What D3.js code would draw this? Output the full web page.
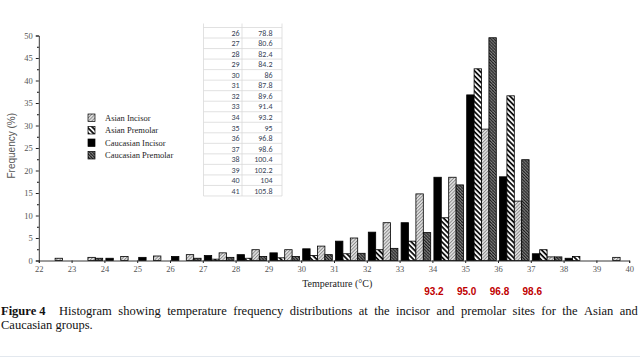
<!DOCTYPE html>
<html><head><meta charset="utf-8">
<script src="https://cdn.jsdelivr.net/npm/d3@7/dist/d3.min.js"></script>
<style>
html,body{margin:0;padding:0;background:#fff;width:640px;height:359px;overflow:hidden;}
.cap{position:absolute;left:1px;width:637px;font-family:"Liberation Serif","Times New Roman",serif;font-size:12.5px;line-height:14px;color:#111;white-space:nowrap;}
#cap1{top:304px;display:flex;justify-content:space-between;}
#cap2{top:318px;}
</style></head>
<body>
<svg id="chart" width="640" height="359" style="position:absolute;left:0;top:0"></svg>
<div id="cap1" class="cap"></div>
<div id="cap2" class="cap"></div>
<script>
// ---- data ----
const bins = [22,23,24,25,26,27,28,29,30,31,32,33,34,35,36,37,38,39];
const seriesNames = ["Caucasian Incisor","Asian Premolar","Asian Incisor","Caucasian Premolar"];
const caucasianIncisor = [0,0,0.5,0.7,0.9,1.1,1.3,1.7,2.6,4.3,6.3,8.4,18.5,36.8,18.6,1.5,0.5,0];
const asianPremolar    = [0,0,0,0,0,0.3,0.5,0.6,1.1,1.5,2.4,4.3,9.5,42.6,36.6,2.4,0.9,0];
const asianIncisor     = [0.5,0.7,0.9,1.0,1.3,1.7,2.4,2.4,3.2,5.0,8.4,14.8,18.5,29.2,13.2,0.8,0,0.7];
const caucasianPremolar= [0,0.5,0,0,0.5,0.7,0.9,0.9,1.3,1.6,2.7,6.2,16.8,49.5,22.4,0.8,0,0];
const xTicks = [22,23,24,25,26,27,28,29,30,31,32,33,34,35,36,37,38,39,40];
const yTicks = [0,5,10,15,20,25,30,35,40,45,50];
const legendOrder = ["Asian Incisor","Asian Premolar","Caucasian Incisor","Caucasian Premolar"];
const tableC = [26,27,28,29,30,31,32,33,34,35,36,37,38,39,40,41];
const tableF = ["78.8","80.6","82.4","84.2","86","87.8","89.6","91.4","93.2","95","96.8","98.6","100.4","102.2","104","105.8"];
const redLabels = [{t:34,label:"93.2"},{t:35,label:"95.0"},{t:36,label:"96.8"},{t:37,label:"98.6"}];
const captionBold = "Figure 4";
const captionLine1 = "Histogram showing temperature frequency distributions at the incisor and premolar sites for the Asian and";
const captionLine2 = "Caucasian groups.";

// caption (two lines; first justified word by word)
const c1 = d3.select("#cap1");
c1.append("b").style("margin-right","7px").text(captionBold);
captionLine1.split(" ").forEach(w=>c1.append("span").text(w));
d3.select("#cap2").text(captionLine2);

const svg = d3.select("#chart");
const defs = svg.append("defs");
function pat(id, size, bg, lines, angle){
  const p = defs.append("pattern").attr("id",id).attr("patternUnits","userSpaceOnUse")
    .attr("width",size).attr("height",size).attr("patternTransform","rotate("+angle+")");
  p.append("rect").attr("width",size).attr("height",size).attr("fill",bg);
  lines.forEach(l=>p.append("line").attr("x1",l.x).attr("y1",0).attr("x2",l.x).attr("y2",size)
    .attr("stroke",l.c).attr("stroke-width",l.w));
  return p;
}
pat("pAI", 2.4, "#e2e2e2", [{x:0.5,c:"#6a6a6a",w:0.7}], 45);
pat("pAP", 3.6, "#ffffff", [{x:1,c:"#000",w:1.7}], -45);
const pc = defs.append("pattern").attr("id","pCP").attr("patternUnits","userSpaceOnUse").attr("width",2.2).attr("height",2.2).attr("patternTransform","rotate(-45)");
pc.append("rect").attr("width",2.2).attr("height",2.2).attr("fill","#8a8a8a");
pc.append("line").attr("x1",0.5).attr("y1",0).attr("x2",0.5).attr("y2",2.2).attr("stroke","#111").attr("stroke-width",0.9);
pc.append("line").attr("x1",0).attr("y1",1.6).attr("x2",2.2).attr("y2",1.6).attr("stroke","#333").attr("stroke-width",0.5);

const fills = {"Caucasian Incisor":"#000","Asian Premolar":"url(#pAP)","Asian Incisor":"url(#pAI)","Caucasian Premolar":"url(#pCP)"};
const seriesData = {"Caucasian Incisor":caucasianIncisor,"Asian Premolar":asianPremolar,"Asian Incisor":asianIncisor,"Caucasian Premolar":caucasianPremolar};

const x = d3.scaleLinear().domain([22,40]).range([38.8,629.2]);
const y = d3.scaleLinear().domain([0,50]).range([260.5,35.5]);
const sub = d3.scaleBand().domain(seriesNames).range([1.5, 1.5+4*7.4]).padding(0);

// table overlay
const tTop = 27.5, rowH = 10.53, tX0 = 203.5, tX1 = 242, tX2 = 282;
const tg = svg.append("g");
d3.range(tableC.length+1).forEach(i=>{
  tg.append("line").attr("x1",tX0).attr("x2",tX2).attr("y1",tTop+i*rowH).attr("y2",tTop+i*rowH).attr("stroke","#d9d9d9").attr("stroke-width",0.8);
});
[tX0,tX1,tX2].forEach(xx=>tg.append("line").attr("x1",xx).attr("x2",xx).attr("y1",tTop-4).attr("y2",tTop+tableC.length*rowH).attr("stroke","#d9d9d9").attr("stroke-width",0.8));
tableC.forEach((c,i)=>{
  tg.append("text").attr("x",tX1-2.5).attr("y",tTop+i*rowH+rowH/2+3).attr("text-anchor","end")
    .attr("font-family","Carlito, 'Liberation Sans', Arial, sans-serif").attr("font-size",8).attr("fill","#3a4658").text(c);
  tg.append("text").attr("x",tX2-9.5).attr("y",tTop+i*rowH+rowH/2+3).attr("text-anchor","end")
    .attr("font-family","Carlito, 'Liberation Sans', Arial, sans-serif").attr("font-size",8).attr("fill","#3a4658").text(tableF[i]);
});

// bars
const g = svg.append("g");
seriesNames.forEach(name=>{
  g.selectAll(null).data(bins.map((b,i)=>({b,v:seriesData[name][i]})).filter(d=>d.v>0)).enter().append("rect")
    .attr("x",d=>x(d.b)+sub(name)).attr("width",sub.bandwidth())
    .attr("y",d=>y(d.v)).attr("height",d=>y(0)-y(d.v))
    .attr("fill",fills[name]).attr("stroke","#000").attr("stroke-width",0.8);
});

// axes
const yAxis = d3.axisLeft(y).tickValues(yTicks).tickSize(3).tickPadding(3).tickFormat(d3.format("d"));
const ya = svg.append("g").attr("transform","translate("+x(22)+",0)").call(yAxis);
const yMinor = d3.axisLeft(y).tickValues(d3.range(2.5,50,5)).tickSize(1.8).tickFormat("");
svg.append("g").attr("transform","translate("+x(22)+",0)").call(yMinor).select(".domain").remove();
const xAxis = d3.axisBottom(x).tickValues(xTicks).tickSize(2.5).tickPadding(3).tickFormat(d3.format("d"));
const xa = svg.append("g").attr("transform","translate(0,"+y(0)+")").call(xAxis);
[ya,xa].forEach(a=>{
  a.selectAll("text").attr("font-family","'Liberation Serif','Times New Roman',serif").attr("font-size",8.5).attr("fill","#555");
  a.select(".domain").attr("stroke","#222").attr("stroke-width",0.9);
  a.selectAll(".tick line").attr("stroke","#222");
});

// axis titles
svg.append("text").attr("x",x(31.1)).attr("y",287).attr("text-anchor","middle")
  .attr("font-family","'Liberation Serif','Times New Roman',serif").attr("font-size",10).attr("fill","#222").text("Temperature (°C)");
svg.append("text").attr("transform","translate(15,"+y(25.5)+") rotate(-90)").attr("text-anchor","middle")
  .attr("font-family","'Liberation Sans',Arial,sans-serif").attr("font-size",10).attr("fill","#555").text("Frequency (%)");

// legend
const lg = svg.append("g").attr("transform","translate(88,114)");
const legFill = {"Asian Incisor":"url(#pAI)","Asian Premolar":"url(#pAP)","Caucasian Incisor":"#000","Caucasian Premolar":"url(#pCP)"};
legendOrder.forEach((n,i)=>{
  lg.append("rect").attr("x",0).attr("y",i*12.5).attr("width",7).attr("height",7.5).attr("fill",legFill[n]).attr("stroke","#000").attr("stroke-width",0.7);
  lg.append("text").attr("x",17).attr("y",i*12.5+6.8).attr("font-family","'Liberation Serif','Times New Roman',serif")
    .attr("font-size",8.5).attr("fill","#222").text(n);
});

// red annotation labels
svg.selectAll(".red").data(redLabels).enter().append("text").attr("class","red")
  .attr("x",d=>x(d.t)+1.5).attr("y",295).attr("text-anchor","middle")
  .attr("font-family","'Liberation Sans',Arial,sans-serif").attr("font-weight","bold").attr("font-size",10)
  .attr("fill","#c00000").text(d=>d.label);

// bottom faint rule
svg.append("line").attr("x1",0).attr("x2",640).attr("y1",356.5).attr("y2",356.5).attr("stroke","#e3e8ee").attr("stroke-width",1);
</script>
</body></html>
